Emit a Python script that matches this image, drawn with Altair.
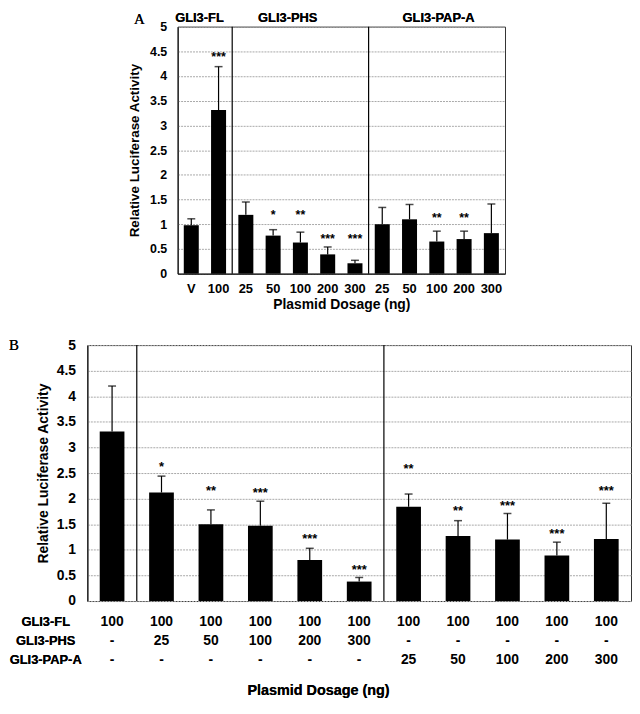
import json
import altair as alt
import pandas as pd

# ---------------- data: panel A ----------------
a_labels = ["V", "100", "25", "50", "100", "200", "300", "25", "50", "100", "200", "300"]
a_values = [0.98, 3.31, 1.19, 0.77, 0.63, 0.39, 0.21, 1.00, 1.10, 0.65, 0.70, 0.82]
a_errtop = [1.11, 4.19, 1.45, 0.89, 0.84, 0.54, 0.27, 1.34, 1.40, 0.86, 0.86, 1.41]
a_stars = ["", "***", "", "*", "**", "***", "***", "", "", "**", "**", ""]
a_star_y = [None, 4.45, None, 1.25, 1.25, 0.77, 0.77, None, None, 1.19, 1.19, None]
a_groups = ["GLI3-FL", "GLI3-PHS", "GLI3-PAP-A"]
a_group_sizes = [2, 5, 5]

# ---------------- data: panel B ----------------
b_fl = ["100", "100", "100", "100", "100", "100", "100", "100", "100", "100", "100"]
b_phs = ["-", "25", "50", "100", "200", "300", "-", "-", "-", "-", "-"]
b_pap = ["-", "-", "-", "-", "-", "-", "25", "50", "100", "200", "300"]
b_values = [3.31, 2.12, 1.50, 1.47, 0.80, 0.38, 1.84, 1.27, 1.20, 0.89, 1.21]
b_errtop = [4.20, 2.44, 1.78, 1.95, 1.03, 0.46, 2.09, 1.57, 1.71, 1.15, 1.91]
b_stars = ["", "*", "**", "***", "***", "***", "**", "**", "***", "***", "***"]
b_star_y = [None, 2.68, 2.20, 2.17, 1.27, 0.67, 2.64, 1.81, 1.92, 1.36, 2.20]
b_rows = ["GLI3-FL", "GLI3-PHS", "GLI3-PAP-A"]
b_group_sizes = [1, 5, 5]

y_ticks = [0, 0.5, 1, 1.5, 2, 2.5, 3, 3.5, 4, 4.5, 5]

FONT = "Liberation Sans"
SERIF = "Liberation Serif"
FRAME = alt.ViewBackground(stroke="#333", strokeWidth=1)


def boundaries(sizes):
    out, s = [], 0
    for n in sizes[:-1]:
        s += n
        out.append(s)
    return out


dfA = pd.DataFrame({"idx": list(range(len(a_labels))), "v": a_values,
                    "e": a_errtop, "star": a_stars, "sy": a_star_y})
dfA_sep = pd.DataFrame({"idx": boundaries(a_group_sizes)})

dfB = pd.DataFrame({"idx": list(range(len(b_values))), "v": b_values,
                    "e": b_errtop, "star": b_stars, "sy": b_star_y,
                    "fl": b_fl, "phs": b_phs, "pap": b_pap})
dfB_sep = pd.DataFrame({"idx": boundaries(b_group_sizes)})


def y_axis(label_size, title_size, label_pad, title_pad):
    return alt.Axis(values=y_ticks, format="~g", ticks=False, tickCount=11,
                    labelOverlap=False, domainColor="black", grid=True,
                    gridColor="#a8a8a8", gridDash=[2, 1], labelFont=FONT,
                    labelFontSize=label_size, labelFontWeight="bold",
                    labelColor="black", labelPadding=label_pad,
                    title="Relative Luciferase Activity", titleFont=FONT,
                    titleFontSize=title_size, titleFontWeight="bold",
                    titleColor="black", titlePadding=title_pad)


# ---------------- panel A ----------------
WA, HA = 330, 249
xA_scale = alt.Scale(domain=list(range(len(a_labels))), paddingInner=0, paddingOuter=0)
yA_scale = alt.Scale(domain=[0, 5], nice=False)
axA = y_axis(12.5, 13.5, 11, 8)
axXA = alt.Axis(labelExpr=json.dumps(a_labels) + "[datum.value]",
                labelAngle=0, ticks=False, domainColor="black",
                labelFont=FONT, labelFontSize=13, labelFontWeight="bold",
                labelColor="black", labelPadding=9,
                title="Plasmid Dosage (ng)", titleFont=FONT,
                titleFontSize=14, titleFontWeight="bold",
                titleColor="black", titlePadding=2)
xA = alt.X("idx:O", scale=xA_scale, axis=axXA)

baseA = alt.Chart(dfA)
barsA = baseA.mark_bar(color="black", width={"band": 0.55}).encode(
    x=xA, y=alt.Y("v:Q", scale=yA_scale, axis=axA))
stemA = baseA.mark_rule(color="black", strokeWidth=1.2).encode(
    x=xA, y=alt.Y("v:Q", scale=yA_scale, axis=axA), y2="e:Q")
capA = baseA.mark_tick(color="black", size=8, thickness=1.5).encode(
    x=xA, y=alt.Y("e:Q", scale=yA_scale, axis=axA))
starA = baseA.mark_text(font=FONT, fontSize=12.5, fontWeight="bold",
                        baseline="middle", dy=3, color="black").encode(
    x=xA, y=alt.Y("sy:Q", scale=yA_scale, axis=axA), text="star:N")
sepA = alt.Chart(dfA_sep).mark_rule(color="black", strokeWidth=1.2).encode(
    x=alt.X("idx:O", scale=xA_scale, bandPosition=0, axis=axXA))

gA = []
for name, px in zip(a_groups, [22, 111, 263]):
    gA.append(alt.Chart(dfA_sep).mark_text(text=name, font=FONT, fontSize=13,
                                           fontWeight="bold", baseline="top",
                                           align="center", color="black")
              .encode(x=alt.value(px), y=alt.value(-15)))
labA = alt.Chart(dfA_sep).mark_text(text="A", font=SERIF, fontSize=15,
                                    baseline="top", align="left", color="black").encode(
    x=alt.value(-44), y=alt.value(-15))

panelA = alt.layer(barsA, stemA, capA, starA, sepA, *gA, labA).properties(
    width=WA, height=HA, view=FRAME)

spacer = alt.Chart(dfA_sep).mark_rule(opacity=0).encode(
    x=alt.value(0), y=alt.value(0), y2=alt.value(1)).properties(
    width=91, height=HA, view=alt.ViewBackground(stroke="transparent"))

rowA = alt.hconcat(spacer, panelA, spacing=0, bounds="flush")

# ---------------- panel B ----------------
WB, HB = 548, 258
xB_scale = alt.Scale(domain=list(range(len(b_values))), paddingInner=0, paddingOuter=0)
yB_scale = alt.Scale(domain=[0, 5], nice=False)
axB = y_axis(14, 14, 12, 6)
xB = alt.X("idx:O", scale=xB_scale, axis=None)

baseB = alt.Chart(dfB)
barsB = baseB.mark_bar(color="black", width={"band": 0.5}).encode(
    x=xB, y=alt.Y("v:Q", scale=yB_scale, axis=axB))
stemB = baseB.mark_rule(color="black", strokeWidth=1.2).encode(
    x=xB, y=alt.Y("v:Q", scale=yB_scale, axis=axB), y2="e:Q")
capB = baseB.mark_tick(color="black", size=8, thickness=1.5).encode(
    x=xB, y=alt.Y("e:Q", scale=yB_scale, axis=axB))
starB = baseB.mark_text(font=FONT, fontSize=13, fontWeight="bold",
                        baseline="middle", dy=3, color="black").encode(
    x=xB, y=alt.Y("sy:Q", scale=yB_scale, axis=axB), text="star:N")
sepB = alt.Chart(dfB_sep).mark_rule(color="black", strokeWidth=1.2).encode(
    x=alt.X("idx:O", scale=xB_scale, bandPosition=0, axis=None))

rowsB = []
for field, py in zip(["fl", "phs", "pap"], [279, 298, 317]):
    rowsB.append(baseB.mark_text(font=FONT, fontSize=14, fontWeight="bold",
                                 baseline="middle", color="black").encode(
        x=xB, y=alt.value(py), text=f"{field}:N"))
rowLabB = []
for name, py in zip(b_rows, [279, 298, 317]):
    rowLabB.append(alt.Chart(dfB_sep).mark_text(text=name, font=FONT, fontSize=13,
                                                fontWeight="bold", baseline="middle",
                                                align="center", color="black")
                   .encode(x=alt.value(-42), y=alt.value(py)))
titleB = alt.Chart(dfB_sep).mark_text(text="Plasmid Dosage (ng)", font=FONT,
                                      fontSize=14.5, fontWeight="bold",
                                      baseline="middle", align="center",
                                      color="black").encode(
    x=alt.value(233), y=alt.value(349))
labB = alt.Chart(dfB_sep).mark_text(text="B", font=SERIF, fontSize=15,
                                    baseline="middle", align="left", color="black").encode(
    x=alt.value(-79), y=alt.value(0))

panelB = alt.layer(barsB, stemB, capB, starB, sepB, *rowsB, *rowLabB, titleB, labB).properties(
    width=WB, height=HB, view=FRAME)

chart = alt.vconcat(rowA, panelB, spacing=25).properties(padding=0).configure_view(
    stroke="transparent")

chart.save("out.html", embed_options={"renderer": "svg", "actions": False})
